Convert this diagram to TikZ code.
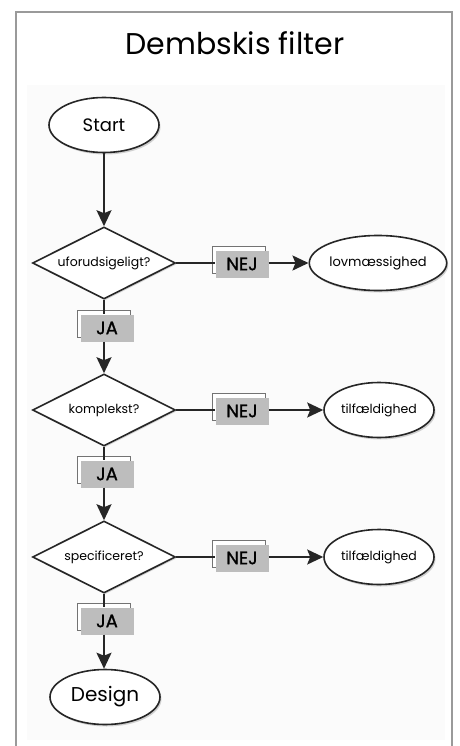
\documentclass[tikz,border=0pt]{standalone}
\usepackage{fontspec}
\setmainfont{Poppins}
\usetikzlibrary{shapes.geometric,arrows.meta,shadows}
\definecolor{framegray}{HTML}{9A9A9A}
\definecolor{boxgray}{HTML}{BDBDBD}
\definecolor{panel}{HTML}{FBFBFB}
\begin{document}
\begin{tikzpicture}[x=1pt,y=-1pt,
  conn/.style={line width=2pt,draw=black!85},
  arr/.style={conn,-{Stealth[length=16pt,width=15pt,inset=3pt]}},
  oval/.style={ellipse,draw=black!85,line width=1.6pt,fill=white,inner sep=0pt,
    minimum width=110pt,minimum height=55pt,
    drop shadow={shadow xshift=1.5pt,shadow yshift=-2pt,opacity=0.35}},
  decision/.style={diamond,aspect=2,draw=black!85,line width=1.6pt,fill=white,inner sep=0pt,
    minimum width=143pt,minimum height=72pt,font=\fontsize{12.5}{14}\selectfont,
    drop shadow={shadow xshift=1pt,shadow yshift=-1.5pt,opacity=0.3}},
  tag/.style={fill=boxgray,inner sep=0pt,minimum width=53pt,minimum height=27pt,
    font=\fontsize{18}{20}\selectfont\addfontfeatures{FakeBold=1.2},
    copy shadow={shadow xshift=-3.5pt,shadow yshift=4pt,fill=white,draw=black!55,line width=0.6pt}},
]
\useasboundingbox (0,0) rectangle (459,746);
\fill[white] (0,0) rectangle (459,746);
\fill[panel] (27,85) rectangle (445,740);
\draw[framegray,line width=2.5pt] (16,760) -- (16,12) -- (452,12) -- (452,760);
\node (title) at (235,43) {\fontsize{30}{33}\selectfont Dembskis filter};

\node[oval,font=\fontsize{18}{20}\selectfont] (start) at (104,125) {Start};
\node[decision] (d1) at (104,263) {uforudsigeligt?};
\node[decision] (d2) at (104,410) {komplekst?};
\node[decision] (d3) at (104,557) {specificeret?};
\node[oval,font=\fontsize{20}{22}\selectfont] (design) at (105,697) {Design};

\node[tag] (ja1) at (107,328) {JA};
\node[tag] (ja2) at (107,474) {JA};
\node[tag] (ja3) at (107,621) {JA};

\node[tag] (nej1) at (242,264) {NEJ};
\node[tag] (nej2) at (242,411) {NEJ};
\node[tag] (nej3) at (242,558) {NEJ};

\node[oval,font=\fontsize{13}{15}\selectfont] (r1) at (378,263) {lovmæssighed};
\node[oval,font=\fontsize{12.5}{14}\selectfont] (r2) at (379,410) {tilfældighed};
\node[oval,font=\fontsize{12.5}{14}\selectfont] (r3) at (379,557) {tilfældighed};

\draw[arr] (start.south) -- (d1.north);
\draw[conn] (d1.south) -- (ja1.north -| d1.south);
\draw[arr] (ja1.south -| d2.north) -- (d2.north);
\draw[conn] (d2.south) -- (ja2.north -| d2.south);
\draw[arr] (ja2.south -| d3.north) -- (d3.north);
\draw[conn] (d3.south) -- (ja3.north -| d3.south);
\draw[arr] (ja3.south -| d3.south) -- (design.north -| d3.south);

\draw[conn] (d1.east) -- (nej1.west |- d1.east);
\draw[arr] (nej1.east |- d1.east) -- (r1.west);
\draw[conn] (d2.east) -- (nej2.west |- d2.east);
\draw[arr] (nej2.east |- d2.east) -- (r2.west);
\draw[conn] (d3.east) -- (nej3.west |- d3.east);
\draw[arr] (nej3.east |- d3.east) -- (r3.west);
\end{tikzpicture}
\end{document}
